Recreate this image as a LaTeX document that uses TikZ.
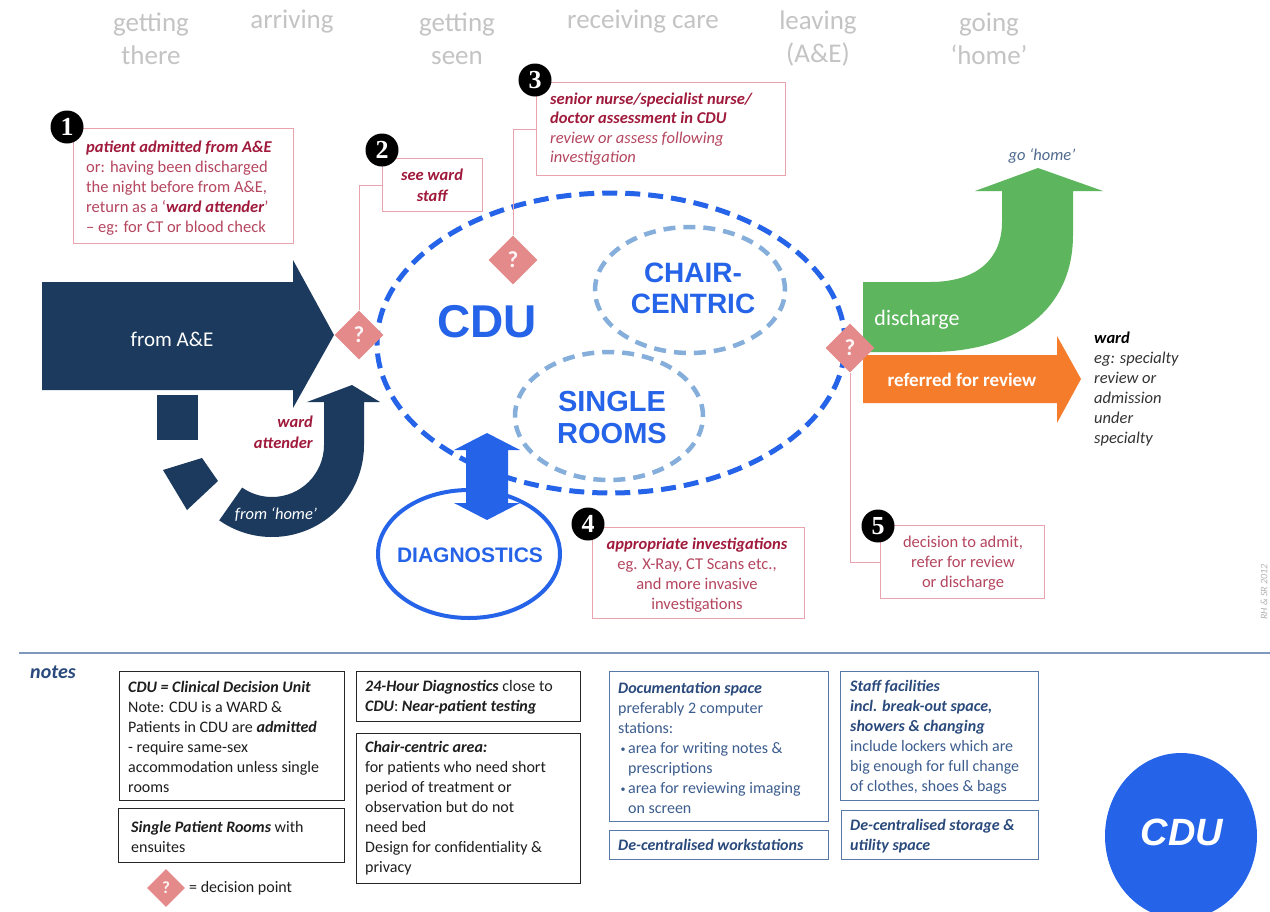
\documentclass[tikz,border=0pt]{standalone}
\usepackage{fontspec}
\setmainfont{Carlito}
\newfontfamily\arialf{Liberation Sans}
\newfontfamily\numf{Liberation Serif}
\usetikzlibrary{shapes.geometric}
\definecolor{navy}{HTML}{1B3A5E}
\definecolor{cdublue}{HTML}{2563E8}
\definecolor{lblue}{HTML}{85AEDB}
\definecolor{qpink}{HTML}{E48A8A}
\definecolor{pinkb}{HTML}{E9A3AD}
\definecolor{redb}{HTML}{A01A3C}
\definecolor{redt}{HTML}{B5465F}
\definecolor{hgrey}{HTML}{C4C4C4}
\definecolor{dgreen}{HTML}{5DB55D}
\definecolor{orng}{HTML}{F47C2A}
\definecolor{ntxt}{HTML}{1E1E1E}
\definecolor{bnote}{HTML}{3C5D8E}
\definecolor{bnoteb}{HTML}{2A4A7C}
\definecolor{bborder}{HTML}{5779A8}
\definecolor{sepl}{HTML}{7E98BE}
\definecolor{gohome}{HTML}{4F6A8F}
\newcommand\bi[1]{\textbf{\textit{#1}}}
\newcommand\nbul{\makebox[10pt][c]{\raisebox{1pt}{\fontsize{10}{10}\selectfont\textbullet}}}
\begin{document}
\begin{tikzpicture}[x=1pt,y=-1pt,
 cbox/.style={draw=pinkb, line width=1pt, inner sep=0, anchor=north west},
 nbox/.style={draw=black!85, line width=1.2pt, inner sep=0, anchor=north west},
 bbox/.style={draw=bborder, line width=1.2pt, inner sep=0, anchor=north west},
 ctext/.style={font=\fontsize{16.5}{20}\selectfont, text=redt, inner sep=0, align=left},
 ntext/.style={font=\fontsize{16}{20}\selectfont, text=ntxt, inner sep=0, align=left},
 num/.style={circle, fill=black, inner sep=0, minimum size=33, text=white, font=\numf\bfseries\fontsize{26}{26}\selectfont},
 qd/.style={diamond, fill=qpink, inner sep=0, minimum width=49, minimum height=49, text=white!92!qpink, font=\bfseries\fontsize{23}{23}\selectfont},
 head/.style={text=hgrey, font=\fontsize{27}{33}\selectfont, align=center, inner sep=0},
 big/.style={text=cdublue, align=center, inner sep=0},
 pl/.style={draw=pinkb, line width=1pt},
 cdud/.style={ellipse, draw=cdublue, line width=5pt, dash pattern=on 15pt off 8pt, inner sep=0},
 subd/.style={ellipse, draw=lblue, line width=4.5pt, dash pattern=on 12pt off 8pt, inner sep=0}
]
\useasboundingbox (0,0) rectangle (1270,911);
\fill[white] (0,0) rectangle (1270,911);

% stage headers
\node[head] (h1) at (151,38.5) {getting\\there};
\node[head] (h2) at (292,22) {arriving};
\node[head] (h3) at (457,38.5) {getting\\seen};
\node[head] (h4) at (643,22) {receiving care};
\node[head] (h5) at (818,38.5) {leaving\\(A\&E)};
\node[head] (h6) at (989,38.5) {going\\‘home’};

% from A&E arrow
\fill[navy] (42,282) -- (293,282) -- (293,260) -- (334,335) -- (293,408) -- (293,390) -- (42,390) -- cycle;
\node[text=white, font=\fontsize{21}{21}\selectfont] (fae) at (172,339) {from A\&E};

% ward attender (from home) arrow
\fill[navy] (272,445) ++(125:92) arc[start angle=125, end angle=0, radius=92] -- (364,402) -- (380,402) -- (352,385) -- (307,402) -- (324,402) -- (324,445) arc[start angle=0, end angle=125, radius=52] -- cycle;
\fill[navy] (157,395) rectangle (198,440);
\fill[navy] (163,470) -- (202,458) -- (218,481) -- (187,510) -- cycle;
\node[font=\fontsize{16.5}{21}\selectfont\bfseries\itshape, text=redb, align=right, anchor=east, inner sep=0] (wa) at (313,432) {ward\\attender};
\node[font=\fontsize{16.5}{16.5}\selectfont\itshape, text=white] (fh) at (276,515) {from ‘home’};

% CDU and sub areas
\node[cdud, minimum width=468, minimum height=300] (cdu) at (611,343) {};
\node[subd, minimum width=190, minimum height=126] (chair) at (690,290) {};
\node[subd, minimum width=188, minimum height=128] (single) at (609,416) {};
\node[ellipse, draw=cdublue, line width=4pt, minimum width=182, minimum height=128, inner sep=0] (diag) at (469,554) {};
\node[big, font=\arialf\bfseries\fontsize{46}{46}\selectfont] (cdut) at (487,322) {CDU};
\node[big, font=\arialf\bfseries\fontsize{28}{31}\selectfont] (cht) at (693,288) {CHAIR-\\CENTRIC};
\node[big, font=\arialf\bfseries\fontsize{29}{32}\selectfont] (srt) at (612,418) {SINGLE\\ROOMS};
\node[big, font=\arialf\bfseries\fontsize{21}{21}\selectfont] (dgt) at (470,555) {DIAGNOSTICS};
\fill[cdublue] (487,433) -- (520,450) -- (508,450) -- (508,503) -- (520,503) -- (487,520) -- (454,503) -- (466,503) -- (466,450) -- (454,450) -- cycle;

% exit arrows
\fill[dgreen] (863,282) -- (930,282) .. controls (978,282) and (1002,258) .. (1002,222) -- (1002,191) -- (975,191) -- (1038,168) -- (1103,191) -- (1073,191) -- (1073,235) .. controls (1073,310) and (1015,352) .. (930,352) -- (863,352) -- cycle;
\fill[orng] (863,355) -- (1057,355) -- (1057,336) -- (1081,379) -- (1057,423) -- (1057,403) -- (863,403) -- cycle;
\node[text=white, font=\fontsize{22}{22}\selectfont] (dis) at (917,320) {discharge};
\node[text=white, font=\fontsize{19}{19}\selectfont\bfseries] (ref) at (962,380) {referred for review};
\node[text=gohome, font=\fontsize{16.5}{16.5}\selectfont\itshape] (goh) at (1042,156) {go ‘home’};
\node[anchor=west, align=left, font=\fontsize{16.5}{20}\selectfont\itshape, text=black!80, inner sep=0] (wardt) at (1094,389) {\textbf{\textcolor{black}{ward}}\\eg: specialty\\review or\\admission\\under\\specialty};

% callouts
\node[cbox, minimum width=220, minimum height=115] (b1) at (73,128) {};
\node[ctext, anchor=west] (t1) at (86,188) {\textcolor{redb}{\bi{patient admitted from A\&E}}\\or: having been discharged\\the night before from A\&E,\\return as a ‘\textcolor{redb}{\bi{ward attender}}’\\– eg: for CT or blood check};
\node[cbox, minimum width=100, minimum height=53] (b2) at (382,158) {};
\node[ctext, align=center, text=redb, font=\fontsize{16.5}{21}\selectfont\bfseries\itshape] (t2) at (432,185.5) {see ward\\staff};
\node[cbox, minimum width=249, minimum height=93] (b3) at (536,82) {};
\node[ctext, anchor=west, font=\fontsize{16.5}{19.5}\selectfont\itshape] (t3) at (550,129) {\textcolor{redb}{\textbf{senior nurse/specialist nurse/}}\\\textcolor{redb}{\textbf{doctor assessment in CDU}}\\review or assess following\\investigation};
\node[cbox, minimum width=212, minimum height=91] (b4) at (592,527) {};
\node[ctext, align=center] (t4) at (697,575) {\textcolor{redb}{\bi{appropriate investigations}}\\eg. X-Ray, CT Scans etc.,\\and more invasive\\investigations};
\node[cbox, minimum width=164, minimum height=73] (b5) at (880,525) {};
\node[ctext, align=center] (t5) at (963,563) {decision to admit,\\refer for review\\or discharge};

% decision points
\node[qd] (d1) at (359,335) {?};
\node[qd] (d2) at (513,260) {?};
\node[qd] (d3) at (850,348) {?};
\draw[pl] (b2.west) -| (d1.north);
\draw[pl] (b3.west) -| (d2.north);
\draw[pl] (b5.west) -| (d3.south);

% step numbers
\node[num] (n1) at (67,127) {1};
\node[num] (n2) at (382,150) {2};
\node[num] (n3) at (535,80) {3};
\node[num] (n4) at (588,524) {4};
\node[num] (n5) at (878,526) {5};

\node[rotate=90, font=\fontsize{10}{10}\selectfont\itshape, text=gray!60] (rh) at (1264,592) {RH \& SR 2012};

% notes
\draw[draw=sepl, line width=1.5pt] (19,653) -- (1270,653);
\node[font=\fontsize{20}{20}\selectfont\bfseries\itshape, text=bnoteb] (notes) at (53,672) {notes};

\node[nbox, minimum width=225, minimum height=129] (nA) at (119,671) {};
\node[ntext, anchor=west] (tA) at (128,737) {\bi{CDU = Clinical Decision Unit}\\Note: CDU is a WARD \&\\Patients in CDU are \bi{admitted}\\- require same-sex\\accommodation unless single\\rooms};
\node[nbox, minimum width=226, minimum height=54] (nB) at (118,808) {};
\node[ntext, anchor=west] (tB) at (131,837) {\bi{Single Patient Rooms} with\\ensuites};
\node[nbox, minimum width=224, minimum height=50] (nC) at (356,671) {};
\node[ntext, anchor=west] (tC) at (365,697) {\bi{24-Hour Diagnostics} close to\\\bi{CDU}: \bi{Near-patient testing}};
\node[nbox, minimum width=224, minimum height=150] (nD) at (356,733) {};
\node[ntext, anchor=west] (tD) at (365,808.5) {\bi{Chair-centric area:}\\for patients who need short\\period of treatment or\\observation but do not\\need bed\\Design for confidentiality \&\\privacy};

\node[bbox, minimum width=219, minimum height=150] (nE) at (609,671) {};
\node[ntext, anchor=west, text=bnote] (tE) at (618,747.5) {\textcolor{bnoteb}{\bi{Documentation space}}\\preferably 2 computer\\stations:\\\nbul area for writing notes \&\\\hspace*{10pt}prescriptions\\\nbul area for reviewing imaging\\\hspace*{10pt}on screen};
\node[bbox, minimum width=219, minimum height=29] (nF) at (609,830) {};
\node[ntext, anchor=west, text=bnoteb] (tF) at (618,845) {\bi{De-centralised workstations}};
\node[bbox, minimum width=198, minimum height=129] (nG) at (840,671) {};
\node[ntext, anchor=west, text=bnote] (tG) at (850,737.5) {\textcolor{bnoteb}{\bi{Staff facilities}}\\\textcolor{bnoteb}{\bi{incl. break-out space,}}\\\textcolor{bnoteb}{\bi{showers \& changing}}\\include lockers which are\\big enough for full change\\of clothes, shoes \& bags};
\node[bbox, minimum width=197, minimum height=49] (nH) at (841,810) {};
\node[ntext, anchor=west, text=bnoteb] (tH) at (850,836.5) {\bi{De-centralised storage \&}\\\bi{utility space}};

\node[qd, minimum width=38, minimum height=38, font=\bfseries\fontsize{17}{17}\selectfont] (dl) at (166,888) {?};
\node[anchor=west, font=\fontsize{16}{16}\selectfont, text=ntxt, inner sep=0] (dlt) at (189,888) {= decision point};

\node[ellipse, fill=cdublue, minimum width=152, minimum height=166, inner sep=0] (cduc) at (1181,836) {};
\node[font=\arialf\bfseries\itshape\fontsize{38}{38}\selectfont, text=white] (cduct) at (1182,832) {CDU};
\end{tikzpicture}
\end{document}
